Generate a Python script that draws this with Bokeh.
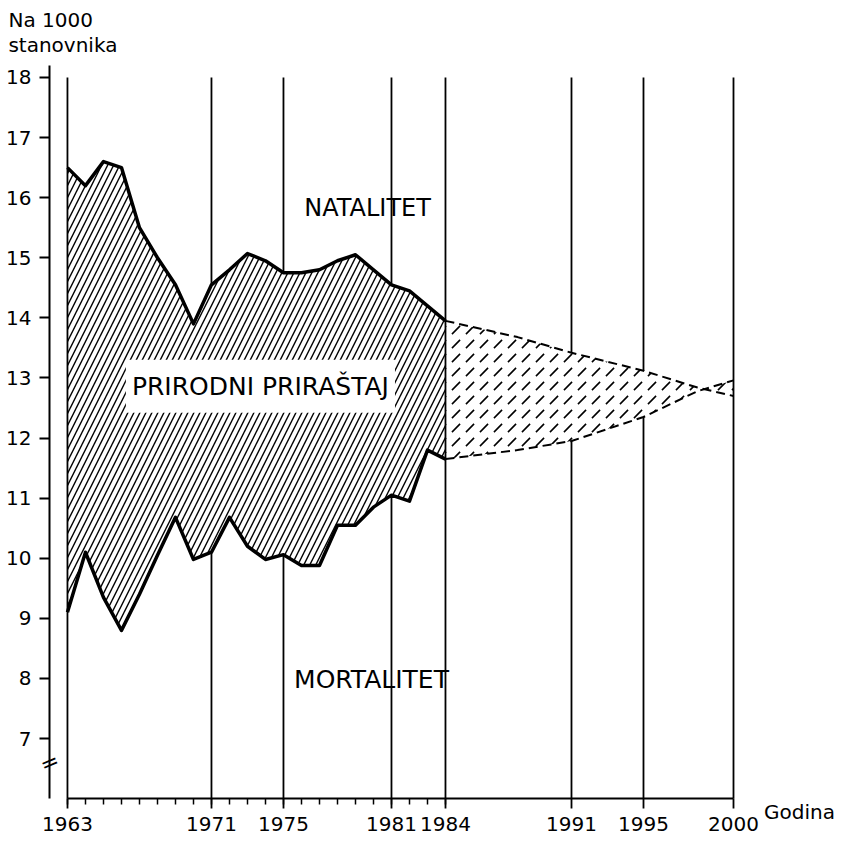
from bokeh.plotting import figure
from bokeh.models import FixedTicker, Label
from bokeh.embed import file_html
from bokeh.resources import INLINE

# ---- data ----
years_hist = list(range(1963, 1985))
natalitet = [16.5, 16.2, 16.6, 16.5, 15.5, 15.0, 14.55, 13.9, 14.55, 14.8, 15.07,
             14.95, 14.75, 14.75, 14.8, 14.95, 15.05, 14.8, 14.55, 14.45, 14.2, 13.95]
mortalitet = [9.1, 10.1, 9.35, 8.8, 9.4, 10.05, 10.68, 9.98, 10.1, 10.68, 10.2,
              9.98, 10.06, 9.88, 9.88, 10.55, 10.55, 10.85, 11.05, 10.95, 11.8, 11.65]

years_proj = [1984, 1988, 1991, 1995, 1998, 2000]
natalitet_proj = [13.95, 13.68, 13.42, 13.12, 12.84, 12.7]
mortalitet_proj = [11.65, 11.8, 11.95, 12.35, 12.78, 12.96]

x_ticks = [1963, 1971, 1975, 1981, 1984, 1991, 1995, 2000]
x_minor = list(range(1963, 1985))
y_ticks = [7, 8, 9, 10, 11, 12, 13, 14, 15, 16, 17, 18]
lines_under = [1971, 1975, 1981, 1991, 1995]
lines_over = [1963, 1984, 2000]

FONT = "DejaVu Sans"

p = figure(frame_width=850, frame_height=840,
           x_range=(1959.28, 2006.5), y_range=(5.303, 19.281),
           output_backend="svg", toolbar_location=None,
           min_border=0)
p.outline_line_color = None
p.xgrid.visible = False
p.ygrid.visible = False
p.background_fill_color = "white"
p.border_fill_color = "white"

# vertical reference lines hidden by the areas
p.segment(x0=lines_under, y0=[6.0] * len(lines_under), x1=lines_under,
          y1=[18.0] * len(lines_under), line_color="black", line_width=1.8)

# historical natural increase
p.varea(x=years_hist, y1=mortalitet, y2=natalitet, fill_color="white",
        hatch_pattern="/", hatch_color="black", hatch_scale=12, hatch_weight=1.4)
# projection
p.varea(x=years_proj, y1=mortalitet_proj, y2=natalitet_proj, fill_color="white",
        hatch_pattern="right_diagonal_dash", hatch_color="black", hatch_scale=14,
        hatch_weight=1.6)

p.line(years_hist, natalitet, line_color="black", line_width=3.5, line_join="round")
p.line(years_hist, mortalitet, line_color="black", line_width=3.5, line_join="round")
p.line(years_proj, natalitet_proj, line_color="black", line_width=2, line_dash="9 5")
p.line(years_proj, mortalitet_proj, line_color="black", line_width=2, line_dash="9 5")

p.segment(x0=lines_over, y0=[6.0] * len(lines_over), x1=lines_over,
          y1=[18.0] * len(lines_over), line_color="black", line_width=1.8)

# axes at fixed positions inside the frame
xa = p.xaxis[0]
xa.fixed_location = 6.0
xa.ticker = FixedTicker(ticks=x_ticks, minor_ticks=x_minor)
xa.bounds = (1963, 2000)
xa.axis_line_width = 2
xa.major_tick_out = 10
xa.major_tick_in = 0
xa.minor_tick_out = 6
xa.minor_tick_in = 0
xa.major_tick_line_width = 1.8
xa.minor_tick_line_width = 1.5
xa.major_label_standoff = 8
xa.major_label_text_font = FONT
xa.major_label_text_font_size = "20px"
xa.major_label_text_color = "black"

ya = p.yaxis[0]
ya.fixed_location = 1962
ya.ticker = FixedTicker(ticks=y_ticks)
ya.bounds = (6.0, 18.2)
ya.axis_line_width = 2
ya.major_tick_out = 10
ya.major_tick_in = 0
ya.minor_tick_line_color = None
ya.major_tick_line_width = 1.8
ya.major_label_standoff = 8
ya.major_label_text_font = FONT
ya.major_label_text_font_size = "20px"
ya.major_label_text_color = "black"

# labels
def lab(x, y, text, size, align="center", baseline="middle", **kw):
    l = Label(x=x, y=y, text=text, text_font=FONT, text_font_size=size,
              text_color="black", text_align=align, text_baseline=baseline, **kw)
    p.add_layout(l)
    return l

lab(1979.67, 15.82, "NATALITET", "24px")
lab(1979.89, 7.98, "MORTALITET", "25px")
lab(1973.72, 12.86, "PRIRODNI PRIRAŠTAJ", "25px",
    background_fill_color="white", padding=(6, 12))
lab(1959.72, 18.96, "Na  1000", "20px", align="left", baseline="alphabetic")
lab(1959.72, 18.545, "stanovnika", "20px", align="left", baseline="alphabetic")
lab(2001.7, 5.77, "Godina", "20px", align="left", baseline="alphabetic")
lab(1962, 6.6, "=", "22px", angle=0.4)

open("out.html", "w").write(file_html(p, INLINE))
